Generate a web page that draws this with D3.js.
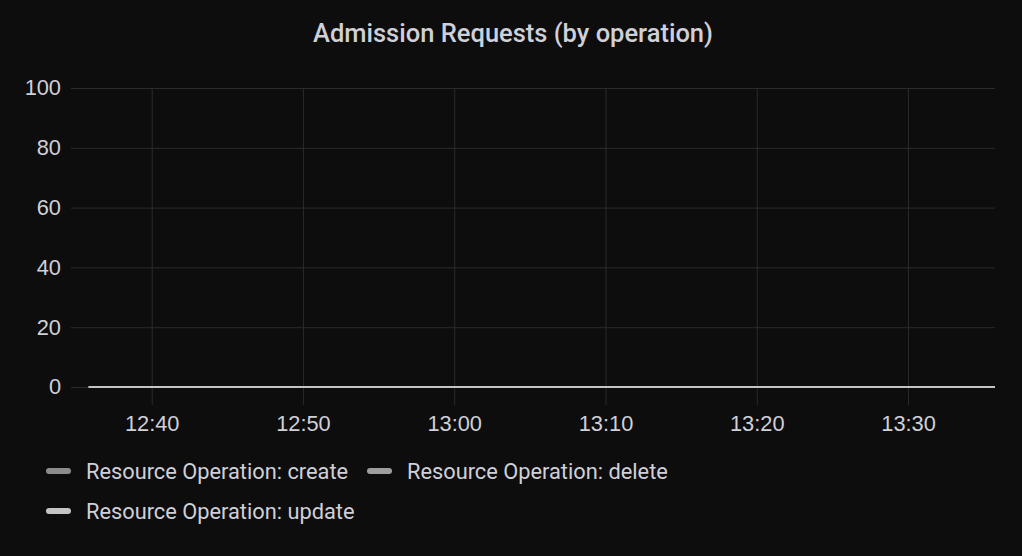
<!DOCTYPE html>
<html><head><meta charset="utf-8">
<script src="https://cdn.jsdelivr.net/npm/d3@7"></script>
<style>
html,body{margin:0;padding:0;background:#0d0d0d;}
svg{display:block;font-family:Roboto,"Noto Sans",sans-serif;}
</style></head><body>
<svg id="c" width="1022" height="556"></svg>
<script>
const title = "Admission Requests (by operation)";
const times = ["12:35:50","12:41","12:46","12:51","12:56","13:01","13:06","13:11","13:16","13:21","13:26","13:31","13:35:45"];
const seriesNames = ["Resource Operation: create","Resource Operation: delete","Resource Operation: update"];
const seriesColors = ["#8c8c8c","#9e9e9e","#c4c4c4"];
const createVals = [0,0,0,0,0,0,0,0,0,0,0,0,0];
const deleteVals = [0,0,0,0,0,0,0,0,0,0,0,0,0];
const updateVals = [0,0,0,0,0,0,0,0,0,0,0,0,0];
const yTicks = [0,20,40,60,80,100];
const xTickLabels = ["12:40","12:50","13:00","13:10","13:20","13:30"];
const xDomain = ["12:34:40","13:35:45"];

const parse = s => { const p = s.split(":").map(Number); return new Date(2024,0,1,p[0],p[1],p[2]||0); };
const svg = d3.select("#c");
const W = 1022, H = 556;
const m = {l:71, r:27, t:88, b:169};
const x = d3.scaleTime().domain(xDomain.map(parse)).range([m.l, W - m.r]);
const y = d3.scaleLinear().domain([0,100]).range([387, 88]);
const txt = "#d0d0d8";

svg.append("text").attr("x", 513).attr("y", 42).attr("text-anchor","middle")
  .attr("fill", txt).attr("font-size", 25.5).attr("font-weight", 500).text(title);

// grid
const gx = svg.append("g").attr("transform",`translate(0,387)`)
  .call(d3.axisBottom(x).tickValues(xTickLabels.map(parse)).tickFormat(d3.timeFormat("%H:%M"))
    .tickSize(-(387-88)).tickSizeOuter(0).tickPadding(0));
gx.select(".domain").remove();
gx.selectAll(".tick line").attr("stroke","#2b2b2d").attr("y2", 18).attr("y1", -(387-88));
gx.selectAll(".tick text").attr("fill", txt).attr("font-size", 21.8).attr("dy", null).attr("y", 44);

const gy = svg.append("g").attr("transform",`translate(${m.l},0)`)
  .call(d3.axisLeft(y).tickValues(yTicks).tickSize(-(W - m.r - m.l)).tickPadding(10));
gy.select(".domain").remove();
gy.selectAll(".tick line").attr("stroke","#2b2b2d");
gy.selectAll(".tick text").attr("fill", txt).attr("font-size", 21.8).attr("dy","0.32em");

const line = d3.line().x(d => x(d.t)).y(d => y(d.v));
[createVals, deleteVals, updateVals].forEach((vals,i) => {
  const data = times.map((t,j) => ({t: parse(t), v: vals[j]}));
  svg.append("path").datum(data).attr("d", line).attr("fill","none")
    .attr("stroke", seriesColors[i]).attr("stroke-width", 2);
});

// legend
const legendPos = [[46,471],[367,471],[46,511]];
seriesNames.forEach((n,i) => {
  const [lx,ly] = legendPos[i];
  svg.append("rect").attr("x", lx).attr("y", ly-3).attr("width", 25).attr("height", 6).attr("rx", 3)
    .attr("fill", seriesColors[i]);
  svg.append("text").attr("x", lx+40).attr("y", ly).attr("dy","0.35em")
    .attr("fill", txt).attr("font-size", 21.8).text(n);
});
</script>
</body></html>
